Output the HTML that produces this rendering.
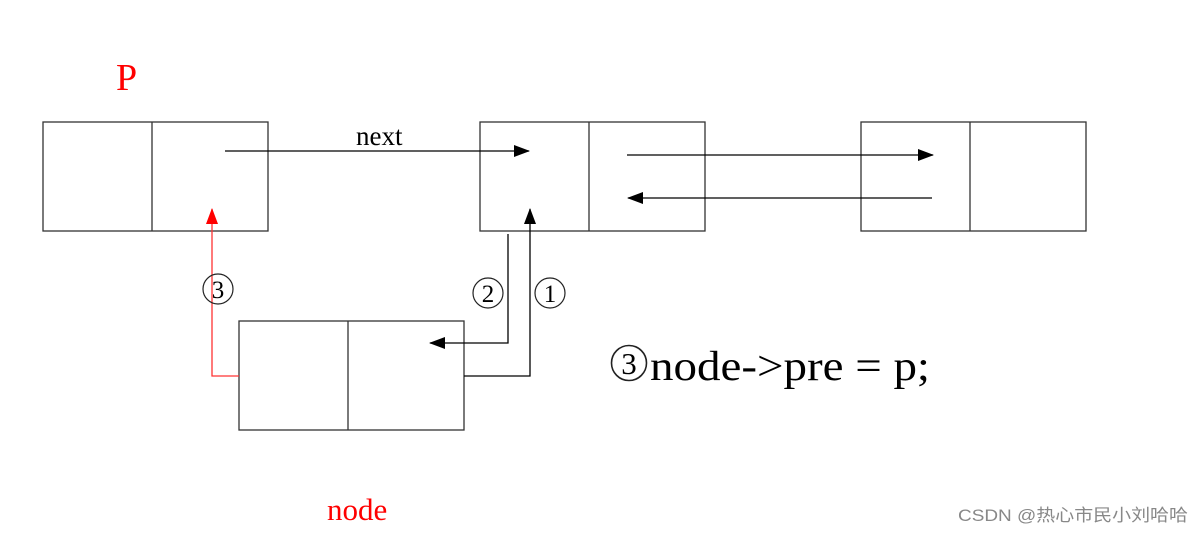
<!DOCTYPE html>
<html><head><meta charset="utf-8"><style>body{margin:0;background:#fff}svg{display:block}</style></head><body>
<svg width="1204" height="534" viewBox="0 0 1204 534" xmlns="http://www.w3.org/2000/svg">
<defs>
<marker id="ab" markerWidth="16" markerHeight="12" refX="15" refY="6" orient="auto" markerUnits="userSpaceOnUse"><path d="M0,0 L16,6 L0,12 z" fill="#000"/></marker>
<marker id="ar" markerWidth="16" markerHeight="12" refX="15" refY="6" orient="auto" markerUnits="userSpaceOnUse"><path d="M0,0 L16,6 L0,12 z" fill="#f00"/></marker>
</defs>
<g fill="none" stroke="#333" stroke-width="1.3">
<rect x="43" y="122" width="225" height="109"/><line x1="152" y1="122" x2="152" y2="231"/>
<rect x="480" y="122" width="225" height="109"/><line x1="589" y1="122" x2="589" y2="231"/>
<rect x="861" y="122" width="225" height="109"/><line x1="970" y1="122" x2="970" y2="231"/>
<rect x="239" y="321" width="225" height="109"/><line x1="348" y1="321" x2="348" y2="430"/>
</g>
<g fill="none" stroke="#000" stroke-width="1.3">
<line x1="225" y1="151" x2="529" y2="151" marker-end="url(#ab)"/>
<line x1="627" y1="155" x2="933" y2="155" marker-end="url(#ab)"/>
<line x1="932" y1="198" x2="628" y2="198" marker-end="url(#ab)"/>
<polyline points="508,234 508,343 430,343" marker-end="url(#ab)"/>
<polyline points="464,376 530,376 530,209" marker-end="url(#ab)"/>
</g>
<polyline points="239,376 212,376 212,209" fill="none" stroke="#f33" stroke-width="1.3" marker-end="url(#ar)"/>
<g fill="none" stroke="#222" stroke-width="1.2">
<circle cx="218" cy="289" r="15"/>
<circle cx="488" cy="293" r="15"/>
<circle cx="550" cy="293" r="15"/>
<circle cx="629" cy="363" r="17.5" stroke-width="1.6"/>
</g>
<g font-family="Liberation Serif, serif" fill="#000" text-anchor="middle">
<text x="218" y="298" font-size="25">3</text>
<text x="488" y="302" font-size="25">2</text>
<text x="550" y="302" font-size="25">1</text>
<text x="629" y="374" font-size="31">3</text>
</g>
<g font-family="Liberation Serif, serif">
<text x="116" y="90" font-size="38" fill="#f00">P</text>
<text x="356" y="145" font-size="27" fill="#000">next</text>
<text x="650" y="380" font-size="42" fill="#000" textLength="280" lengthAdjust="spacingAndGlyphs">node-&gt;pre = p;</text>
<text x="327" y="520" font-size="31" fill="#f00">node</text>
</g>
<text x="958" y="521" font-family="Liberation Sans, Noto Sans CJK SC, sans-serif" font-size="17" fill="#888" textLength="230" lengthAdjust="spacingAndGlyphs">CSDN @热心市民小刘哈哈</text>
</svg>
</body></html>
